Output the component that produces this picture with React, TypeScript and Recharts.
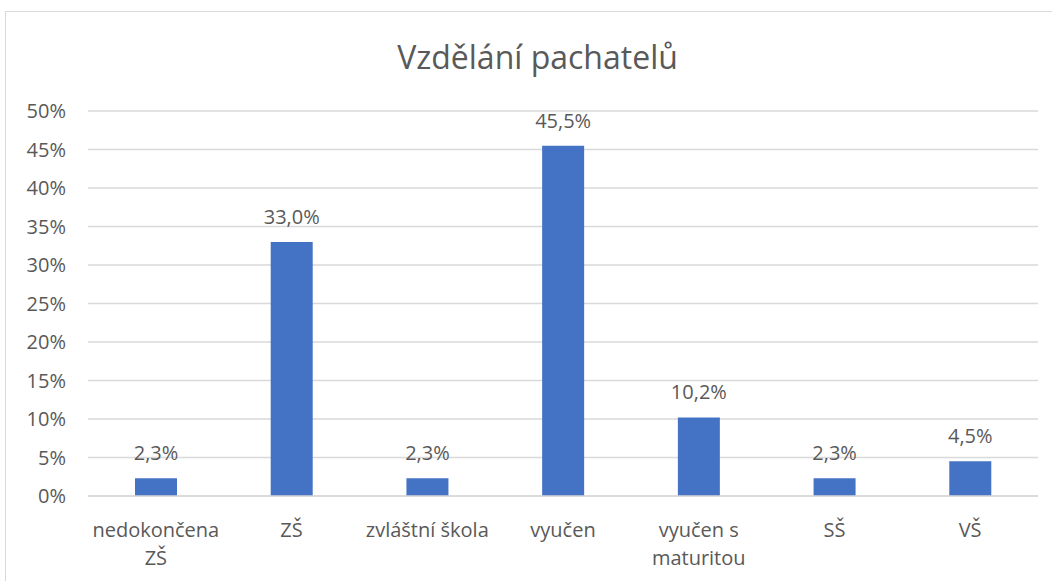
import { BarChart, Bar, XAxis, YAxis, CartesianGrid, LabelList } from 'recharts'

const categories = ['nedokončena ZŠ', 'ZŠ', 'zvláštní škola', 'vyučen', 'vyučen s maturitou', 'SŠ', 'VŠ']
const shares = [2.3, 33.0, 2.3, 45.5, 10.2, 2.3, 4.5]
const yTicks = [0, 5, 10, 15, 20, 25, 30, 35, 40, 45, 50]

const data = categories.map((name, i) => ({ name, value: shares[i] }))

const FONT = '"Open Sans", sans-serif'
const GREY = '#595959'
const SIZE = 20

const pct = (v: number) => `${v.toFixed(1).replace('.', ',')}%`

// greedy word wrap, measured on a canvas
let ctx: CanvasRenderingContext2D | null = null
function wrap(label: string, maxWidth: number): string[] {
  if (!ctx) ctx = document.createElement('canvas').getContext('2d')
  if (!ctx) return [label]
  ctx.font = `${SIZE}px ${FONT}`
  const lines: string[] = []
  let cur = ''
  for (const w of label.split(' ')) {
    const next = cur ? `${cur} ${w}` : w
    if (cur && ctx.measureText(next).width > maxWidth) {
      lines.push(cur)
      cur = w
    } else cur = next
  }
  if (cur) lines.push(cur)
  return lines
}

function CategoryTick(props: any) {
  const { x, y, payload } = props
  const lines = wrap(String(payload.value), 134)
  return (
    <text x={x} y={y} textAnchor="middle" fill={GREY} fontSize={SIZE} fontFamily={FONT}>
      {lines.map((l, i) => (
        <tspan key={i} x={x} y={y + 33 + i * 28}>{l}</tspan>
      ))}
    </text>
  )
}

export default function App() {
  return (
    <div style={{ position: 'absolute', left: 0, top: 0, width: 1052, height: 581, background: '#fff', overflow: 'hidden' }}>
      {/* chart frame, runs off the right and bottom of the picture */}
      <div style={{ position: 'absolute', left: 5, top: 11, width: 1100, height: 620, border: '1.5px solid #d9d9d9' }} />
      <div
        style={{
          position: 'absolute', left: 0, width: 1075, top: 35, textAlign: 'center',
          fontFamily: FONT, fontSize: 32, color: GREY,
        }}
      >
        Vzdělání pachatelů
      </div>
      <div style={{ position: 'absolute', left: 0, top: 0 }}>
        <BarChart width={1052} height={581} data={data} margin={{ top: 111, right: 14, left: 8, bottom: 15 }}>
          <CartesianGrid vertical={false} stroke="#d9d9d9" strokeWidth={1.5} />
          <XAxis
            dataKey="name"
            tick={<CategoryTick />}
            tickLine={false}
            axisLine={{ stroke: '#d9d9d9', strokeWidth: 1.5 }}
            height={70}
            interval={0}
          />
          <YAxis
            width={80}
            domain={[0, 50]}
            ticks={yTicks}
            tickFormatter={(v) => `${v}%`}
            tick={{ fill: GREY, fontSize: SIZE, fontFamily: FONT }}
            tickLine={false}
            axisLine={false}
            tickMargin={16}
          />
          <Bar dataKey="value" fill="#4472C4" barSize={42} isAnimationActive={false}>
            <LabelList
              dataKey="value"
              position="top"
              offset={18}
              formatter={(v: any) => pct(Number(v))}
              fill={GREY}
              fontSize={SIZE}
              fontFamily={FONT}
            />
          </Bar>
        </BarChart>
      </div>
    </div>
  )
}
